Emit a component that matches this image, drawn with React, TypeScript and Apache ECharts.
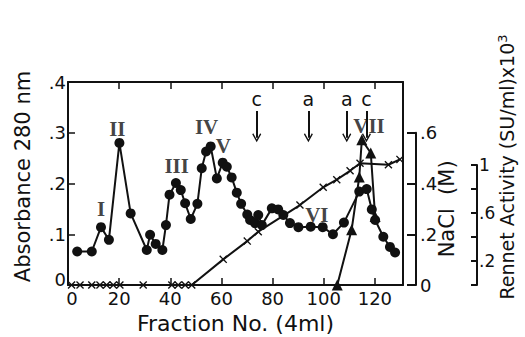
import React, { useEffect, useRef } from "react";
import * as echarts from "echarts";

// Absorbance at 280 nm: [fraction, absorbance]
const absorbance: [number, number][] = [
  [3.6, 0.066], [9.3, 0.066], [12.9, 0.114], [16.0, 0.089], [20.1, 0.28],
  [24.5, 0.141], [30.8, 0.069], [32.1, 0.099], [34.3, 0.081], [36.9, 0.069],
  [38.3, 0.118], [39.7, 0.178], [42.2, 0.201], [44.1, 0.187], [45.8, 0.161],
  [48.0, 0.13], [50.6, 0.16], [52.3, 0.23], [54.0, 0.263], [55.8, 0.273],
  [58.2, 0.21], [60.5, 0.241], [62.1, 0.233], [64.0, 0.212], [66.0, 0.182],
  [67.7, 0.16], [70.1, 0.139], [71.2, 0.128], [73.1, 0.122], [74.4, 0.138],
  [75.8, 0.118], [79.7, 0.151], [82.2, 0.149], [84.2, 0.138], [86.8, 0.122],
  [90.1, 0.114], [94.9, 0.115], [99.6, 0.114], [103.6, 0.1], [107.9, 0.123],
  [113.9, 0.184], [116.8, 0.189], [118.8, 0.149], [120.1, 0.128], [123.3, 0.095],
  [125.9, 0.075], [127.9, 0.064],
];

// NaCl gradient (M): [fraction, molarity]
const nacl: [number, number][] = [
  [1.4, 0], [4.7, 0], [9.3, 0], [12.5, 0], [15.1, 0], [17.7, 0], [20.3, 0],
  [29.4, 0], [40.6, 0], [43.1, 0], [45.8, 0], [48.4, 0], [60.7, 0.101],
  [70.1, 0.173], [74.4, 0.21], [90.7, 0.315], [99.8, 0.385], [105.1, 0.415],
  [110.3, 0.45], [114.2, 0.48], [125.3, 0.474], [129.8, 0.495],
];

// Rennet activity (SU/ml x10^3): [fraction, activity]
const rennet: [number, number][] = [
  [105.3, 0], [110.9, 0.46], [113.9, 0.9], [114.9, 1.21], [118.4, 1.1], [120.1, 0.57],
];

// Peak labels: [fraction, absorbance, label]
const peakLabels: [number, number, string][] = [
  [12.9, 0.15, "I"], [19.3, 0.307, "II"], [42.5, 0.234, "III"], [54.2, 0.311, "IV"],
  [60.7, 0.273, "V"], [97.3, 0.138, "VI"], [117.7, 0.314, "VII"],
];

// Arrows: [fraction, letter]
const arrows: [number, string][] = [
  [73.8, "c"], [94.0, "a"], [109.0, "a"], [116.7, "c"],
];

const xTicks = [0, 20, 40, 60, 80, 100, 120];

const SANS = "DejaVu Sans";
const SERIF = "Liberation Serif";
const BLACK = "#111";
const CROSS = "path://M0,1.2L1.2,0L5,3.8L8.8,0L10,1.2L6.2,5L10,8.8L8.8,10L5,6.2L1.2,10L0,8.8L3.8,5Z";
const CHEVRON = "path://M0,9L5,0L10,9L8.8,10L5,3.2L1.2,10Z";

export default function App() {
  const ref = useRef<HTMLDivElement>(null);
  useEffect(() => {
    document.body.style.margin = "0";
    const chart = echarts.init(ref.current!, undefined, { renderer: "svg" });
    const gridL = 68, gridR = 122, gridT = 82, gridB = 52;
    const axisLine = { show: true, onZero: false, lineStyle: { color: BLACK, width: 2 } };
    const decimal = (v: number) => "." + Math.round(v * 10);
    const option: any = {
      animation: false,
      backgroundColor: "#fff",
      grid: [
        { left: gridL, right: gridR, top: gridT, bottom: gridB, outerBoundsMode: "none", containLabel: false },
        { left: gridL, right: gridR, top: 132.75, bottom: gridB, outerBoundsMode: "none", containLabel: false },
        { left: gridL, right: gridR, top: 165, bottom: gridB, outerBoundsMode: "none", containLabel: false },
      ],
      xAxis: [
        {
          gridIndex: 0, type: "value", min: 0, max: 131, interval: 20,
          axisLine, axisTick: { inside: true, length: 7, lineStyle: { color: BLACK, width: 1.5 }, customValues: xTicks },
          axisLabel: {
            customValues: xTicks, color: BLACK, fontFamily: SANS, fontSize: 18, margin: 4,
            formatter: (v: number) => (v === 0 ? "{z|0}" : String(v)),
            rich: { z: { fontFamily: SANS, fontSize: 18, color: BLACK, padding: [0, 0, 0, 8] } },
          },
          splitLine: { show: false },
          name: "Fraction No. (4ml)", nameLocation: "middle", nameGap: 27, nameMoveOverlap: false,
          nameTextStyle: { color: BLACK, fontFamily: SANS, fontSize: 22 },
        },
        {
          gridIndex: 0, type: "value", position: "top", min: 0, max: 131, interval: 20,
          axisLine, axisTick: { inside: true, length: 7, lineStyle: { color: BLACK, width: 1.5 }, customValues: xTicks },
          axisLabel: { show: false }, splitLine: { show: false },
        },
        { gridIndex: 1, type: "value", min: 0, max: 131, show: false },
        { gridIndex: 2, type: "value", min: 0, max: 131, show: false },
      ],
      yAxis: [
        {
          gridIndex: 0, type: "value", min: 0, max: 0.4, interval: 0.1,
          axisLine, axisTick: { inside: true, length: 7, lineStyle: { color: BLACK, width: 1.5 } },
          axisLabel: {
            color: BLACK, fontFamily: SANS, fontSize: 18, margin: 2,
            formatter: (v: number) => (v === 0 ? "{z|0}" : decimal(v)),
            rich: { z: { fontFamily: SANS, fontSize: 18, color: BLACK, padding: [0, 0, 12, 0] } },
          },
          splitLine: { show: false },
          name: "Absorbance 280 nm", nameLocation: "middle", nameGap: 35, nameRotate: 90, nameMoveOverlap: false,
          nameTextStyle: { color: BLACK, fontFamily: SANS, fontSize: 21, padding: [0, 0, 0, 14] },
        },
        {
          gridIndex: 0, type: "value", position: "right", min: 0, max: 0.8,
          axisLine, axisTick: { show: false }, axisLabel: { show: false }, splitLine: { show: false },
        },
        {
          gridIndex: 0, type: "value", position: "right", min: 0, max: 1.6917, show: false,
        },
        {
          gridIndex: 1, type: "value", position: "right", offset: 13, min: 0, max: 0.6, interval: 0.2,
          axisLine, axisTick: { inside: true, length: 9, lineStyle: { color: BLACK, width: 2 } },
          axisLabel: {
            color: BLACK, fontFamily: SANS, fontSize: 18, margin: 4,
            formatter: (v: number) => (v === 0 ? "0" : decimal(v)),
          },
          splitLine: { show: false },
          name: "NaCl  (M)", nameLocation: "middle", nameGap: 20, nameRotate: 90, nameMoveOverlap: false,
          nameTextStyle: { color: BLACK, fontFamily: SANS, fontSize: 21, verticalAlign: "top" },
        },
        {
          gridIndex: 2, type: "value", position: "right", offset: 74, min: 0, max: 1, interval: 0.2,
          axisLine, axisTick: { inside: true, length: 6, lineStyle: { color: BLACK, width: 2 } },
          axisLabel: {
            color: BLACK, fontFamily: SANS, fontSize: 17, margin: 2,
            formatter: (v: number) => (v === 1 ? "1" : v === 0.6 || v === 0.2 ? decimal(v) : ""),
          },
          splitLine: { show: false },
          name: "Rennet Activity (SU/ml)x10{s|3}", nameLocation: "middle", nameGap: 19, nameRotate: 90,
          nameMoveOverlap: false,
          nameTextStyle: {
            color: BLACK, fontFamily: SANS, fontSize: 19, verticalAlign: "top", padding: [0, 0, 0, 116],
            rich: { s: { fontFamily: SANS, fontSize: 13, verticalAlign: "top", color: BLACK, padding: [0, 0, 8, 0] } },
          },
        },
      ],
      series: [
        {
          type: "line", xAxisIndex: 0, yAxisIndex: 1, data: nacl,
          symbol: CROSS, symbolSize: 8, itemStyle: { color: BLACK },
          lineStyle: { color: BLACK, width: 2 }, z: 2,
        },
        {
          type: "line", xAxisIndex: 0, yAxisIndex: 0, data: absorbance,
          symbol: "circle", symbolSize: 10, itemStyle: { color: BLACK },
          lineStyle: { color: BLACK, width: 2 }, z: 3,
          markLine: {
            silent: true,
            lineStyle: { color: BLACK, width: 2, type: "solid" },
            symbolSize: [9, 9],
            label: { show: true, position: "start", color: BLACK, fontFamily: SANS, fontSize: 19, distance: 2 },
            data: arrows.map(([x, letter]) => [
              { coord: [x, 0.343], symbol: "none", label: { formatter: letter } },
              { coord: [x, 0.29], symbol: CHEVRON },
            ]),
          },
        },
        {
          type: "line", xAxisIndex: 0, yAxisIndex: 2, data: rennet,
          symbol: "triangle", symbolSize: 11, itemStyle: { color: BLACK },
          lineStyle: { color: BLACK, width: 2 }, z: 4,
        },
        {
          type: "scatter", xAxisIndex: 0, yAxisIndex: 0,
          data: peakLabels.map(([x, y, n]) => ({ value: [x, y], name: n })),
          symbolSize: 1, itemStyle: { color: "rgba(0,0,0,0)" },
          label: {
            show: true, position: "inside", formatter: "{b}", color: BLACK,
            fontFamily: SERIF, fontSize: 21, fontWeight: "bold",
          },
          z: 5,
        },
      ],
    };
    chart.setOption(option);
    return () => chart.dispose();
  }, []);
  return <div ref={ref} style={{ width: 525, height: 337, background: "#fff" }} />;
}
